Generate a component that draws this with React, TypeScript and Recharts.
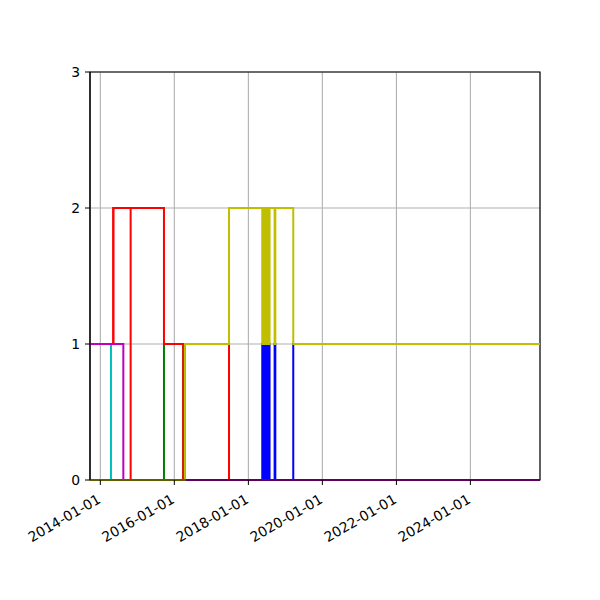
import { CartesianGrid, Line, LineChart, ReferenceArea, XAxis, YAxis } from "recharts";

const xStart = "2013-09-21";
const xEnd = "2025-11-18";
const tickDates = ["2014-01-01", "2016-01-01", "2018-01-01", "2020-01-01", "2022-01-01", "2024-01-01"];
const yTicks = [0, 1, 2, 3];

// step series: value holds from each date until the next one
const blueDates = [
  xStart, "2018-05-18", "2018-05-28", "2018-06-08", "2018-06-18", "2018-06-29",
  "2018-07-09", "2018-07-19", "2018-07-29", "2018-09-17", "2018-09-24", "2019-03-20",
];
const blueCounts = [0, 1, 0, 1, 0, 1, 0, 1, 0, 1, 0, 1];

const greenDates = [xStart, "2015-09-21", "2016-03-29"];
const greenCounts = [0, 1, 0];

const redADates = [xStart, "2014-05-09", "2014-10-27"];
const redACounts = [1, 2, 0];

const redBDates = [xStart, "2014-05-09", "2015-09-21", "2016-03-29"];
const redBCounts = [1, 2, 1, 0];

const redCDates = [xStart, "2016-04-15", "2017-06-24"];
const redCCounts = [0, 1, 0];

const cyanDates = [xStart, "2014-04-16"];
const cyanCounts = [1, 0];

const magentaDates = [xStart, "2014-08-16"];
const magentaCounts = [1, 0];

const yellowDates = [
  xStart, "2016-04-15", "2017-06-24", "2018-05-18", "2018-05-28", "2018-06-08",
  "2018-06-18", "2018-06-29", "2018-07-09", "2018-07-19", "2018-07-29",
  "2018-09-17", "2018-09-24", "2019-03-20",
];
const yellowCounts = [0, 1, 2, 1, 2, 1, 2, 1, 2, 1, 2, 1, 2, 1];

const toTime = (s: string) => Date.parse(s + "T00:00:00Z");

const build = (dates: string[], counts: number[]) => {
  const pts = dates.map((d, i) => ({ t: toTime(d), v: counts[i] }));
  pts.push({ t: toTime(xEnd), v: counts[counts.length - 1] });
  return pts;
};

const series = [
  { key: "b", color: "#0000ff", data: build(blueDates, blueCounts) },
  { key: "g", color: "#008000", data: build(greenDates, greenCounts) },
  { key: "ra", color: "#ff0000", data: build(redADates, redACounts) },
  { key: "rb", color: "#ff0000", data: build(redBDates, redBCounts) },
  { key: "rc", color: "#ff0000", data: build(redCDates, redCCounts) },
  { key: "c", color: "#00bfbf", data: build(cyanDates, cyanCounts) },
  { key: "m", color: "#bf00bf", data: build(magentaDates, magentaCounts) },
  { key: "y", color: "#bfbf00", data: build(yellowDates, yellowCounts) },
];

const font = "DejaVu Sans";

const DateTick = (props: any) => {
  const { x, y, payload } = props;
  const d = new Date(payload.value).toISOString().slice(0, 10);
  return (
    <g transform={`translate(${x - 4},${y + 6})`}>
      <text
        x={0}
        y={0}
        dy="0.75em"
        textAnchor="end"
        transform="rotate(-30)"
        fontFamily={font}
        fontSize={13.9}
        fill="#000"
      >
        {d}
      </text>
    </g>
  );
};

export default function App() {
  return (
    <div style={{ position: "absolute", left: 0, top: 0, width: 600, height: 600, background: "#fff" }}>
      <LineChart width={600} height={600} margin={{ top: 72, right: 60, left: 30, bottom: 60 }}>
        <CartesianGrid stroke="#b0b0b0" strokeWidth={1.1} />
        <XAxis
          dataKey="t"
          type="number"
          domain={[toTime(xStart), toTime(xEnd)]}
          ticks={tickDates.map(toTime)}
          allowDataOverflow
          height={60}
          tick={<DateTick />}
          tickSize={5}
          stroke="#000"
          interval={0}
        />
        <YAxis
          type="number"
          domain={[0, 3]}
          ticks={yTicks}
          width={60}
          tickSize={5}
          tickMargin={5}
          stroke="#000"
          tick={{ fill: "#000", fontFamily: font, fontSize: 13.9 }}
          interval={0}
        />
        <ReferenceArea
          x1={toTime(xStart)}
          x2={toTime(xEnd)}
          y1={0}
          y2={3}
          fill="none"
          fillOpacity={0}
          stroke="#000"
          strokeWidth={1.1}
          ifOverflow="visible"
        />
        {series.map((s) => (
          <Line
            key={s.key}
            data={s.data}
            dataKey="v"
            type="stepAfter"
            stroke={s.color}
            strokeWidth={2}
            dot={false}
            activeDot={false}
            isAnimationActive={false}
          />
        ))}
      </LineChart>
    </div>
  );
}
